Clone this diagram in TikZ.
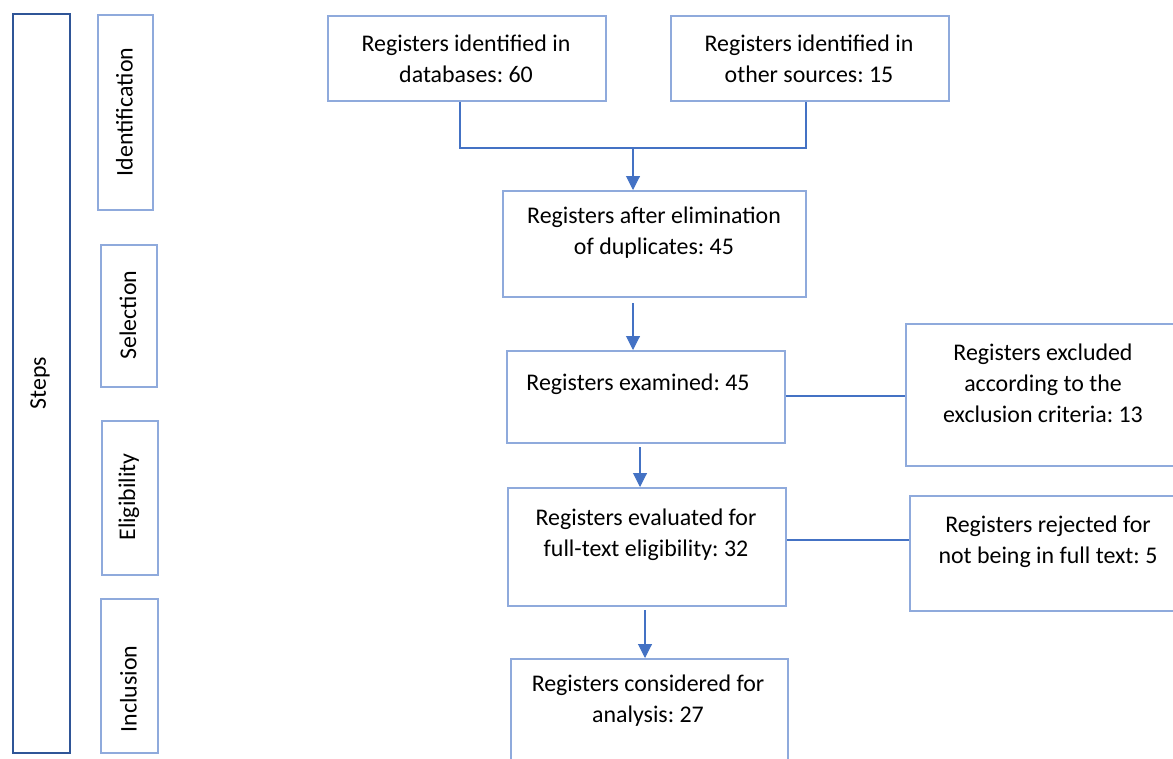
\documentclass[tikz,border=0pt]{standalone}
\usepackage{fontspec}
\setmainfont{Carlito}
\usetikzlibrary{arrows.meta,positioning}
\definecolor{boxblue}{HTML}{8FAADC}
\definecolor{lineblue}{HTML}{4472C4}
\definecolor{stepsblue}{HTML}{2F5597}
\frenchspacing
\newlength\px
\setlength\px{0.02cm}
\tikzset{
	regbox/.style={draw=boxblue, line width=1.1pt, anchor=north west, inner sep=0pt},
	stagebox/.style={regbox},
	stepsbox/.style={regbox, draw=stepsblue},
	regtext/.style={align=center, inner sep=0pt, font=\fontsize{13.6}{17.6}\selectfont},
	stagetext/.style={regtext, rotate=90},
	link/.style={draw=lineblue, line width=0.6pt},
	arr/.style={link, -{Triangle[width=0.28cm,length=0.28cm]}}
}

\begin{document}
\begin{tikzpicture}[x=1\px, y=-1\px]
\useasboundingbox (0,0) rectangle (1173,758);
\clip (0,0) rectangle (1173,758);
% Steps column
\node[stepsbox, minimum width=57\px, minimum height=739\px] (steps) at (12,13) {};
\node[stagetext] (stepstext) at (40,383) {Steps};
\foreach \name/\x/\y/\w/\h/\ty/\lab in {ident/97/14/55/195/112/Identification, select/100/244/56/142/315/Selection, elig/101/420/56/154/497/Eligibility, incl/100/598/57/154/689/Inclusion} {
\node[stagebox, minimum width=\w\px, minimum height=\h\px] (\name) at (\x,\y) {};
\node[stagetext] (\name text) at (\x+\w/2,\ty) {\lab};
}
% Boxes
\node[regbox, minimum width=278\px, minimum height=85\px] (db) at (327,15) {};
\node[regbox, minimum width=278\px, minimum height=85\px] (other) at (670,15) {};
\node[regbox, minimum width=303\px, minimum height=106\px] (dup) at (502,190) {};
\node[regbox, minimum width=278\px, minimum height=92\px] (exam) at (506,350) {};
\node[regbox, minimum width=290\px, minimum height=142\px] (excl) at (905,323) {};
\node[regbox, minimum width=278\px, minimum height=118\px] (eval) at (507,487) {};
\node[regbox, minimum width=290\px, minimum height=115\px] (rej) at (909,495) {};
\node[regbox, minimum width=277\px, minimum height=120\px] (cons) at (510,658) {};
% Texts
\node[regtext] (dbtext) at (466,58.5) {Registers identified in\\databases: 60};
\node[regtext] (othertext) at (809,58.5) {Registers identified in\\other sources: 15};
\node[regtext] (duptext) at (654,232.5) {Registers after elimination\\of duplicates: 45};
\node[regtext] (examtext) at (638,384) {Registers examined: 45};
\node[regtext] (excltext) at (1043,383) {Registers excluded\\according to the\\exclusion criteria: 13};
\node[regtext] (evaltext) at (646,535) {Registers evaluated for\\full-text eligibility: 32};
\node[regtext] (rejtext) at (1048,541.5) {Registers rejected for\\not being in full text: 5};
\node[regtext] (constext) at (648,700.5) {Registers considered for\\analysis: 27};
% Connectors
\coordinate (dbleg) at (460,148);
\coordinate (merge) at (633,148);
\coordinate (otherleg) at (806,148);
\coordinate (a1) at (633,303);
\coordinate (a2) at (640,447);
\coordinate (a3) at (645,610);
\coordinate (r1) at (0,396);
\coordinate (r2) at (0,540);
\draw[link] (db.south -| dbleg) -- (dbleg) -- (otherleg) -- (other.south -| otherleg);
\draw[arr] (merge) -- (dup.north -| merge);
\draw[arr] (a1) -- (exam.north -| a1);
\draw[arr] (a2) -- (eval.north -| a2);
\draw[arr] (a3) -- (cons.north -| a3);
\draw[link] (exam.east |- r1) -- (excl.west |- r1);
\draw[link] (eval.east |- r2) -- (rej.west |- r2);
\end{tikzpicture}
\end{document}
